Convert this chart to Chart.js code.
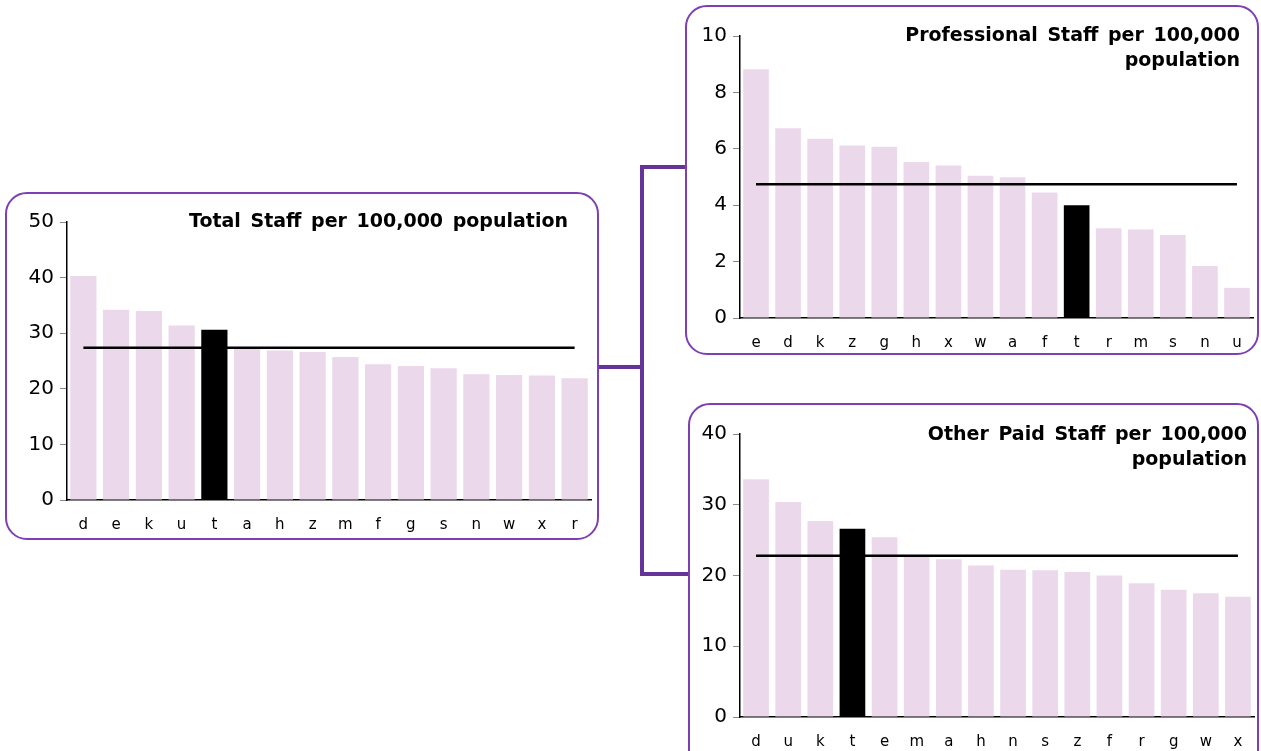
<!DOCTYPE html>
<html>
<head>
<meta charset="utf-8">
<script src="https://cdn.jsdelivr.net/npm/chart.js@4/dist/chart.umd.min.js"></script>
<style>
  body { margin: 0; width: 1261px; height: 751px; overflow: hidden; background: #fff; font-family: "DejaVu Sans", Verdana, sans-serif; }
  .box { position: absolute; border: 2px solid #7d3fb4; border-radius: 22px; box-sizing: border-box; }
  .box canvas { position: absolute; left: -2px; top: -2px; }
  .title { position: absolute; font-weight: bold; font-size: 19px; word-spacing: 3px; text-align: right; color: #000; line-height: 25px; }
  .link { position: absolute; background: #663399; }
</style>
</head>
<body>

<div class="link" style="left:598px; top:365px; width:44px; height:4px;"></div>
<div class="link" style="left:640px; top:165px; width:4px; height:411px;"></div>
<div class="link" style="left:640px; top:165px; width:46px; height:4px;"></div>
<div class="link" style="left:640px; top:572px; width:49px; height:4px;"></div>

<div class="box" style="left:5px; top:192px; width:594px; height:348px;">
  <canvas id="total" width="594" height="348"></canvas>
  <div class="title" style="right:29px; top:14px;">Total Staff per 100,000 population</div>
</div>

<div class="box" style="left:685px; top:5px; width:574px; height:350px;">
  <canvas id="prof" width="574" height="350"></canvas>
  <div class="title" style="right:17px; top:15px;">Professional Staff per 100,000<br>population</div>
</div>

<div class="box" style="left:688px; top:403px; width:571px; height:370px;">
  <canvas id="other" width="571" height="348"></canvas>
  <div class="title" style="right:10px; top:16px;">Other Paid Staff per 100,000<br>population</div>
</div>

<script>
// Total staff
const totalLabels = ["d", "e", "k", "u", "t", "a", "h", "z", "m", "f", "g", "s", "n", "w", "x", "r"];
const totalValues = [40.3, 34.2, 34.0, 31.4, 30.6, 27.3, 26.9, 26.6, 25.7, 24.4, 24.1, 23.7, 22.6, 22.5, 22.4, 21.9];
const totalAvg = 27.4;

// Professional staff
const profLabels = ["e", "d", "k", "z", "g", "h", "x", "w", "a", "f", "t", "r", "m", "s", "n", "u"];
const profValues = [8.82, 6.73, 6.36, 6.12, 6.07, 5.53, 5.41, 5.04, 4.99, 4.45, 4.0, 3.18, 3.14, 2.94, 1.84, 1.07];
const profAvg = 4.74;

// Other paid staff
const otherLabels = ["d", "u", "k", "t", "e", "m", "a", "h", "n", "s", "z", "f", "r", "g", "w", "x"];
const otherValues = [33.6, 30.4, 27.7, 26.6, 25.4, 22.7, 22.3, 21.4, 20.8, 20.75, 20.5, 20.0, 18.9, 18.0, 17.5, 17.0];
const otherAvg = 22.8;

const highlight = "t";
const barColor = "#ebd9eb";

function makeChart(id, labels, values, avg, yMax, yStep, box) {
  const ctx = document.getElementById(id).getContext("2d");
  return new Chart(ctx, {
    type: "bar",
    data: {
      labels: labels,
      datasets: [
        {
          type: "line",
          data: [
            { x: labels[0], y: avg },
            { x: labels[labels.length - 1], y: avg },
          ],
          borderColor: "#000",
          borderWidth: 2.5,
          pointRadius: 0,
          order: 0,
        },
        {
          data: values,
          backgroundColor: labels.map((l) => (l === highlight ? "#000" : barColor)),
          barPercentage: 1,
          categoryPercentage: 0.8,
          order: 1,
        },
      ],
    },
    options: {
      responsive: false,
      animation: false,
      layout: { padding: { left: 0, top: box.top, right: box.right, bottom: 0 } },
      plugins: { legend: { display: false }, tooltip: { enabled: false } },
      scales: {
        x: {
          grid: { display: false },
          border: { color: "#000", width: 1.5 },
          ticks: { color: "#000", padding: 8, font: { family: "DejaVu Sans", size: 15 } },
          afterFit: (s) => { s.height = box.xh; },
        },
        y: {
          min: 0,
          max: yMax,
          ticks: { stepSize: yStep, color: "#000", padding: 6, font: { family: "DejaVu Sans", size: 20 } },
          grid: { drawOnChartArea: false, tickLength: 7, color: "#888" },
          border: { color: "#000", width: 1.5 },
          afterFit: (s) => { s.width = box.yw; },
        },
      },
    },
  });
}

makeChart("total", totalLabels, totalValues, totalAvg, 50, 10, { top: 30, right: 8, xh: 40, yw: 62 });
makeChart("prof", profLabels, profValues, profAvg, 10, 2, { top: 31, right: 6, xh: 37, yw: 55 });
makeChart("other", otherLabels, otherValues, otherAvg, 40, 10, { top: 31, right: 5, xh: 34, yw: 52 });
</script>
</body>
</html>
